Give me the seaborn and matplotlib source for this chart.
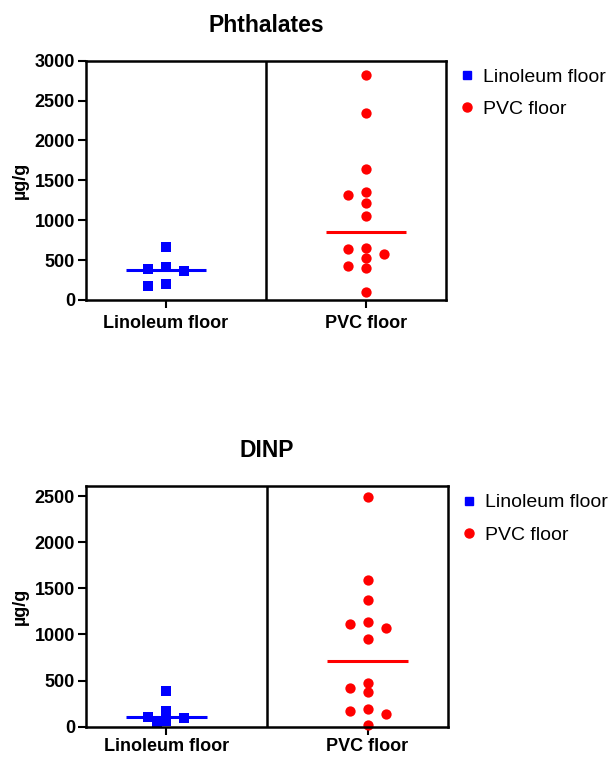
import numpy as np
import pandas as pd
import matplotlib
matplotlib.use("Agg")
import matplotlib.pyplot as plt
import seaborn as sns
from matplotlib.lines import Line2D

sns.set_theme(style="white")
plt.rcParams['font.family'] = ['Liberation Sans', 'DejaVu Sans']
plt.rcParams['text.color'] = 'black'
plt.rcParams['axes.labelcolor'] = 'black'
plt.rcParams['xtick.color'] = 'black'
plt.rcParams['ytick.color'] = 'black'

categories = ["Linoleum floor", "PVC floor"]
colors = ["#0000FF", "#FF0000"]
markers = ["s", "o"]

phth_linoleum = [669, 418, 368, 384, 180, 196]
phth_pvc = [2821, 2340, 1646, 1358, 1320, 1212, 1057, 635, 648, 577, 531, 430, 397, 96]

dinp_linoleum = [391, 174, 47, 109, 65, 91]
dinp_pvc = [2490, 1587, 1377, 1138, 1112, 1069, 953, 478, 417, 380, 192, 170, 134, 18]

titles = ["Phthalates", "DINP"]
ylims = [(0, 3000), (0, 2610)]
yticks = [np.arange(0, 3001, 500), np.arange(0, 2501, 500)]


def column_scatter(values, px_per_y, step_px, min_dist_px=8.5):
    """GraphPad-like column scatter computed from the data: place points
    (largest first) at the first free slot (0, -1, +1, -0.5, +0.5 ...)."""
    order = np.argsort(values)[::-1]
    placed = []  # (x_px, y_px)
    offsets = np.zeros(len(values))
    prefs = [0, -1, 1, -0.5, 0.5, -1.5, 1.5, -2, 2]
    for idx in order:
        y = values[idx] * px_per_y
        for c in prefs:
            x = c * step_px
            if all(np.hypot(x - px, y - py) >= min_dist_px for px, py in placed):
                placed.append((x, y))
                offsets[idx] = c
                break
    return offsets


fig = plt.figure(figsize=(6.16, 7.57), dpi=100)
ax1 = fig.add_axes([86/616, 1-300/757, 360/616, 239.3/757])
ax2 = fig.add_axes([86/616, 1-726.7/757, 362/616, 240.7/757])

datasets = [(phth_linoleum, phth_pvc), (dinp_linoleum, dinp_pvc)]
xpads = [5, 2]

for ax, (lin, pvc), title, ylim, yt, xpad in zip([ax1, ax2], datasets, titles, ylims, yticks, xpads):
    bbox = ax.get_position()
    h_px = bbox.height * fig.get_figheight() * fig.dpi
    w_px = bbox.width * fig.get_figwidth() * fig.dpi
    px_per_y = h_px / (ylim[1] - ylim[0])
    step_px = 18.0
    step_x = step_px * 1.8 / w_px
    frames = []
    for i, (cat, vals) in enumerate(zip(categories, [lin, pvc])):
        vals = np.asarray(vals, dtype=float)
        frames.append(pd.DataFrame({
            "cat": cat,
            "val": vals,
            "x": i + column_scatter(vals, px_per_y, step_px) * step_x,
        }))
    df = pd.concat(frames, ignore_index=True)
    for i, cat in enumerate(categories):
        sub = df[df["cat"] == cat]
        sns.scatterplot(data=sub, x="x", y="val", ax=ax, color=colors[i],
                        marker=markers[i], s=50 if i == 0 else 55,
                        linewidth=0, clip_on=False, legend=False)
        med = np.median(sub["val"])
        ax.hlines(med, i - 0.2, i + 0.2, color=colors[i], lw=2.2)
    ax.axvline(0.5, color="black", lw=1.8)
    ax.set_xlim(-0.4, 1.4)
    ax.set_xticks(range(len(categories)))
    ax.set_xticklabels(categories)
    ax.set_ylim(*ylim)
    ax.set_yticks(yt)
    ax.set_xlabel("")
    ax.set_ylabel("µg/g", fontsize=13, fontweight="bold", labelpad=4, color="black")
    ax.set_title(title, fontsize=16.5, fontweight="bold", pad=21, color="black")
    for s in ax.spines.values():
        s.set_visible(True)
        s.set_color("black")
        s.set_linewidth(1.8)
    ax.tick_params(axis="both", which="major", direction="out", length=6, width=1.5,
                   color="black", labelcolor="black", labelsize=13, pad=2,
                   left=True, bottom=True)
    ax.tick_params(axis="x", pad=xpad)
    for lab in ax.get_xticklabels() + ax.get_yticklabels():
        lab.set_fontweight("bold")
    handles = [Line2D([], [], ls="none", marker=markers[i], color=colors[i],
                      markersize=6 if i == 0 else 6.5) for i in range(2)]
    leg = ax.legend(handles, categories, loc="upper left", bbox_to_anchor=(1.01, 1.0),
                    frameon=False, fontsize=14, handletextpad=0.3, labelspacing=0.75,
                    handlelength=1.0, borderaxespad=0)
    for t in leg.get_texts():
        t.set_color("black")

fig.savefig("out.png", dpi=100)
